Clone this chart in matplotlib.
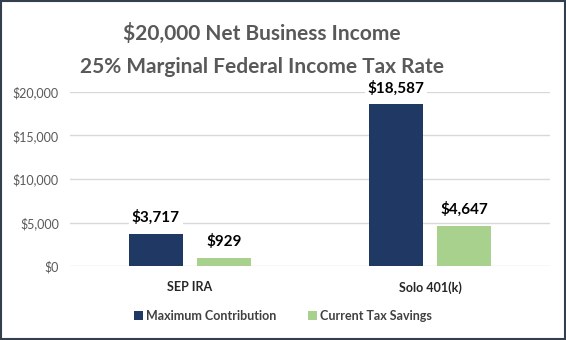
import matplotlib
matplotlib.use("Agg")
import matplotlib.pyplot as plt
import numpy as np
from matplotlib.ticker import FuncFormatter
from matplotlib.patches import Rectangle

categories = ["SEP IRA", "Solo 401(k)"]
series_names = ["Maximum Contribution", "Current Tax Savings"]
max_contribution = [3717, 18587]
tax_savings = [929, 4647]
colors = ["#1F3864", "#A9D18E"]
yticks = [0, 5000, 10000, 15000, 20000]

plt.rcParams['font.family'] = ['Lato', 'DejaVu Sans']

fig = plt.figure(figsize=(5.66, 3.4), dpi=100)
fig.patch.set_facecolor("white")
ax = fig.add_axes([70/566, 1 - 266/340, 480/566, (266 - 92)/340 * 1.0])

x = np.arange(len(categories))
w = 0.225
off = 0.142
b1 = ax.bar(x - off, max_contribution, w, color=colors[0], label=series_names[0], zorder=3)
b2 = ax.bar(x + off, tax_savings, w, color=colors[1], label=series_names[1], zorder=3)

for bars in (b1, b2):
    for r, v in zip(bars, bars.datavalues):
        ax.text(r.get_x() + r.get_width() / 2, v + 1000, f"${v:,.0f}", ha="center", va="bottom",
                fontsize=11, fontweight="bold", color="black", zorder=4,
                bbox=dict(facecolor="white", edgecolor="none", pad=2))

ax.set_xlim(-0.5, 1.5)
ax.set_ylim(0, 20000)
ax.set_yticks(yticks)
ax.yaxis.set_major_formatter(FuncFormatter(lambda v, p: f"${v:,.0f}"))
ax.set_xticks(x)
ax.set_xticklabels(categories)
ax.tick_params(axis="both", length=0, labelsize=9, colors="#595959", pad=8)
ax.tick_params(axis="x", pad=11, labelcolor="#262626")
for t in ax.get_xticklabels():
    t.set_fontweight("bold")
    t.set_fontsize(9)
ax.grid(axis="y", color="#D9D9D9", linewidth=1, zorder=0)
for s in ax.spines.values():
    s.set_visible(False)
ax.set_axisbelow(True)

tx = 262 / 566
fig.text(tx, 1 - 33/340, "$20,000 Net Business Income", ha="center", va="center",
         fontsize=15, fontweight="bold", color="#595959")
fig.text(tx, 1 - 67/340, "25% Marginal Federal Income Tax Rate", ha="center", va="center",
         fontsize=15, fontweight="bold", color="#595959")

leg = fig.legend(handles=[b1, b2], loc="center", bbox_to_anchor=(0.5, 1 - 316/340), ncol=2,
                 frameon=False, fontsize=9, handlelength=0.7, handleheight=0.7,
                 handletextpad=0.3, columnspacing=2.5)
for t in leg.get_texts():
    t.set_color("#404040")
    t.set_fontweight("bold")

fig.add_artist(Rectangle((0.001, 0.002), 0.997, 0.995, transform=fig.transFigure,
                         fill=False, edgecolor="#333F4F", linewidth=1.5))

fig.savefig("out.png", dpi=100, facecolor="white")
